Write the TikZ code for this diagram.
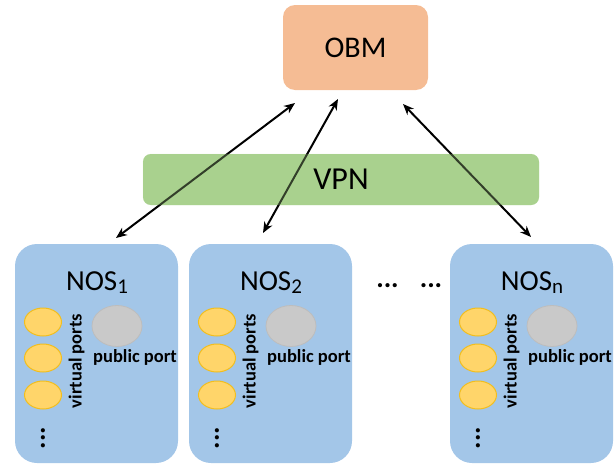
\documentclass[tikz,border=0pt]{standalone}
\usepackage{fontspec}
\setmainfont{Carlito}
\usetikzlibrary{arrows.meta,shapes.geometric}

\definecolor{obmfill}{HTML}{F5BC94}
\definecolor{vpnfill}{HTML}{A9D18E}
\definecolor{nosfill}{HTML}{A3C6E8}
\definecolor{vportfill}{HTML}{FFD56A}
\definecolor{vportline}{HTML}{F2BE1E}
\definecolor{pubfill}{HTML}{C9C9C9}
\definecolor{publine}{HTML}{BDBDBD}

\tikzset{
  obmbox/.style={fill=obmfill, rounded corners=12pt, minimum width=145pt,
    minimum height=85pt, inner sep=0pt, font=\fontsize{30}{34}\selectfont},
  vpnbar/.style={fill=vpnfill, rounded corners=8pt, minimum width=396pt,
    minimum height=51pt, inner sep=0pt},
  nosbox/.style={fill=nosfill, rounded corners=22pt, minimum width=163pt,
    minimum height=219pt, inner sep=0pt},
  nostitle/.style={font=\fontsize{29}{32}\selectfont, inner sep=0pt},
  vport/.style={ellipse, fill=vportfill, draw=vportline, line width=1pt,
    minimum width=37pt, minimum height=28pt, inner sep=0pt},
  pubport/.style={ellipse, fill=pubfill, draw=publine, line width=0.8pt,
    minimum width=50pt, minimum height=41pt, inner sep=0pt},
  portlabel/.style={font=\fontsize{18.5}{21}\bfseries\selectfont, inner sep=0pt},
  dotsmark/.style={font=\fontsize{28}{28}\bfseries\selectfont, inner sep=0pt},
  link/.style={line width=2pt, black, {Stealth[length=11pt,width=9pt]}-{Stealth[length=11pt,width=9pt]}}
}

\begin{document}
\begin{tikzpicture}[x=1pt,y=-1pt]
  \useasboundingbox (0,0) rectangle (614,466);

  % controller and tunnel
  \node[obmbox] (obm) at (355.5,47.5) {OBM};
  \node[vpnbar] (vpn) at (341,179.5) {};

  % network operating system instances
  \foreach \i/\x in {1/15, 2/189, n/450} {
    \node[nosbox] (nos\i) at (\x+81.5,353.5) {};
    \node[nostitle] (nos\i-title) at (\x+82,283) {NOS\raisebox{-3pt}{\fontsize{21}{24}\selectfont\i}};
    \node[vport] (nos\i-v1) at (\x+28,322) {};
    \node[vport] (nos\i-v2) at (\x+28,358) {};
    \node[vport] (nos\i-v3) at (\x+28,395) {};
    \node[portlabel, rotate=90] (nos\i-vl) at (\x+61.5,361) {virtual ports};
    \node[pubport] (nos\i-pub) at (\x+102,326) {};
    \node[portlabel] (nos\i-pl) at (\x+120,357) {public port};
    \node[dotsmark, rotate=90] (nos\i-more) at (\x+28,438) {...};
  }

  % omitted instances
  \node[dotsmark] (gap1) at (387.5,286) {...};
  \node[dotsmark] (gap2) at (431,286) {...};

  % arrow end points
  \coordinate (a1top) at (295,103);
  \coordinate (a1bot) at (116,238);
  \coordinate (a2top) at (338,99);
  \coordinate (a2bot) at (263,233);
  \coordinate (a3top) at (403,104);
  \coordinate (a3bot) at (531,237);

  \draw[link] (a1top) -- (a1bot);
  \draw[link] (a2top) -- (a2bot);
  \draw[link] (a3top) -- (a3bot);

  % tint the links where they cross the tunnel
  \fill[vpnfill, fill opacity=0.3, rounded corners=8pt]
    (vpn.south west) rectangle (vpn.north east);
  \node[font=\fontsize{32}{35}\selectfont, inner sep=0pt] (vpn-label) at (vpn.center) {VPN};
\end{tikzpicture}
\end{document}
